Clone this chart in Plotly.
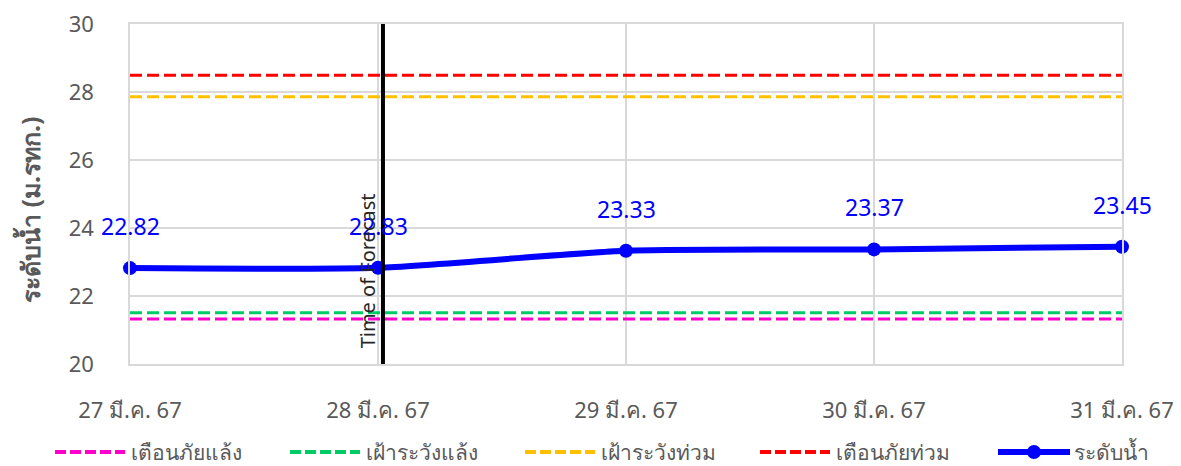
import plotly.graph_objects as go

dates = ["27 มี.ค. 67", "28 มี.ค. 67", "29 มี.ค. 67", "30 มี.ค. 67", "31 มี.ค. 67"]
water_level = [22.82, 22.83, 23.33, 23.37, 23.45]

threshold_names = ["เตือนภัยแล้ง", "เฝ้าระวังแล้ง", "เฝ้าระวังท่วม", "เตือนภัยท่วม"]
threshold_values = [21.32, 21.51, 27.86, 28.49]
threshold_colors = ["#FF00CC", "#00CC66", "#FFC000", "#FF0000"]
forecast_pos = 1.02  # Time of Forecast (just after 28 Mar)

# page has an 8px body margin, so the figure is drawn a bit smaller
OFF = 8
W, H = 1181 - OFF, 466 - OFF
L, T = 130 - OFF, 24 - OFF
R, B = W - (1122 - OFF), H - (364 - OFF)
PW, PH = W - L - R, H - T - B
font_main = "Noto Sans, sans-serif"
grey = "#595959"
grid = "#D9D9D9"
x_idx = list(range(len(dates)))


def px_x(p):
    # page pixel -> paper x
    return (p - OFF - L) / PW


def px_y(p):
    # page pixel -> paper y
    return (H - B - (p - OFF)) / PH


fig = go.Figure()

for name, val, col in zip(threshold_names, threshold_values, threshold_colors):
    fig.add_trace(go.Scatter(
        x=[x_idx[0], x_idx[-1]], y=[val, val], mode="lines", name=name,
        line=dict(color=col, width=3, dash="12px,5px"), hoverinfo="skip"
    ))

fig.add_trace(go.Scatter(
    x=x_idx, y=water_level, mode="lines+markers", name="ระดับน้ำ",
    line=dict(color="#0000FF", width=6, shape="spline", smoothing=0.6),
    marker=dict(size=14, color="#0000FF"), cliponaxis=False,
))

# data labels
for i, v in zip(x_idx, water_level):
    fig.add_annotation(x=i, y=v, text=f"{v:.2f}", showarrow=False, yshift=42,
                       font=dict(size=23, color="#0000FF", family=font_main))

# vertical forecast marker
fig.add_shape(type="line", x0=forecast_pos, x1=forecast_pos, y0=20, y1=30,
              xref="x", yref="y", line=dict(color="black", width=4))
fig.add_annotation(x=forecast_pos, y=20.4, xref="x", yref="y", text="Time of Forecast",
                   textangle=-90, showarrow=False, xanchor="right", yanchor="bottom",
                   xshift=0, font=dict(size=20, color="#262626", family=font_main))

# y axis title
fig.add_annotation(x=px_x(29), y=px_y(210), xref="paper", yref="paper",
                   text="<b>ระดับน้ำ (ม.รทก.)</b>", textangle=-90, showarrow=False,
                   xanchor="center", yanchor="middle",
                   font=dict(size=25, color=grey, family=font_main))

# legend drawn below the plot
legend_starts = [55, 290, 525, 760, 998]
legend_y = px_y(452)
for k, start in enumerate(legend_starts):
    if k < len(threshold_names):
        fig.add_shape(type="line", xref="paper", yref="paper",
                      x0=px_x(start), x1=px_x(start + 70), y0=legend_y, y1=legend_y,
                      line=dict(color=threshold_colors[k], width=4, dash="11px,4px"))
        label = threshold_names[k]
    else:
        fig.add_shape(type="line", xref="paper", yref="paper",
                      x0=px_x(start), x1=px_x(start + 72), y0=legend_y, y1=legend_y,
                      line=dict(color="#0000FF", width=6))
        fig.add_shape(type="circle", xref="paper", yref="paper",
                      xsizemode="pixel", ysizemode="pixel",
                      xanchor=px_x(start + 36), yanchor=legend_y,
                      x0=-7, x1=7, y0=-7, y1=7,
                      fillcolor="#0000FF", line=dict(color="#0000FF", width=0))
        label = "ระดับน้ำ"
    fig.add_annotation(x=px_x(start + 74), y=legend_y, xref="paper", yref="paper",
                       text=label, showarrow=False, xanchor="left", yanchor="middle",
                       font=dict(size=21, color=grey, family=font_main))

fig.update_xaxes(
    range=[0, 4], tickvals=x_idx, ticktext=dates, showgrid=True, gridcolor=grid,
    gridwidth=1.5, showline=True, linecolor=grid, linewidth=1.5, mirror=True,
    zeroline=False, tickfont=dict(size=22, color=grey), ticks="",
    ticklabelstandoff=26, automargin=False, ticklabeloverflow="allow",
)
fig.update_yaxes(
    range=[20, 30], dtick=2, showgrid=True, gridcolor=grid, gridwidth=1.5,
    zeroline=False, showline=True, linecolor=grid, linewidth=1.5, mirror=True,
    tickfont=dict(size=22, color=grey), ticklabelstandoff=30, automargin=False,
    ticklabeloverflow="allow",
)

fig.update_layout(
    width=W, height=H, plot_bgcolor="white", paper_bgcolor="white",
    font=dict(family=font_main),
    margin=dict(l=L, r=R, t=T, b=B),
    showlegend=False,
)

fig.write_html("out.html")
